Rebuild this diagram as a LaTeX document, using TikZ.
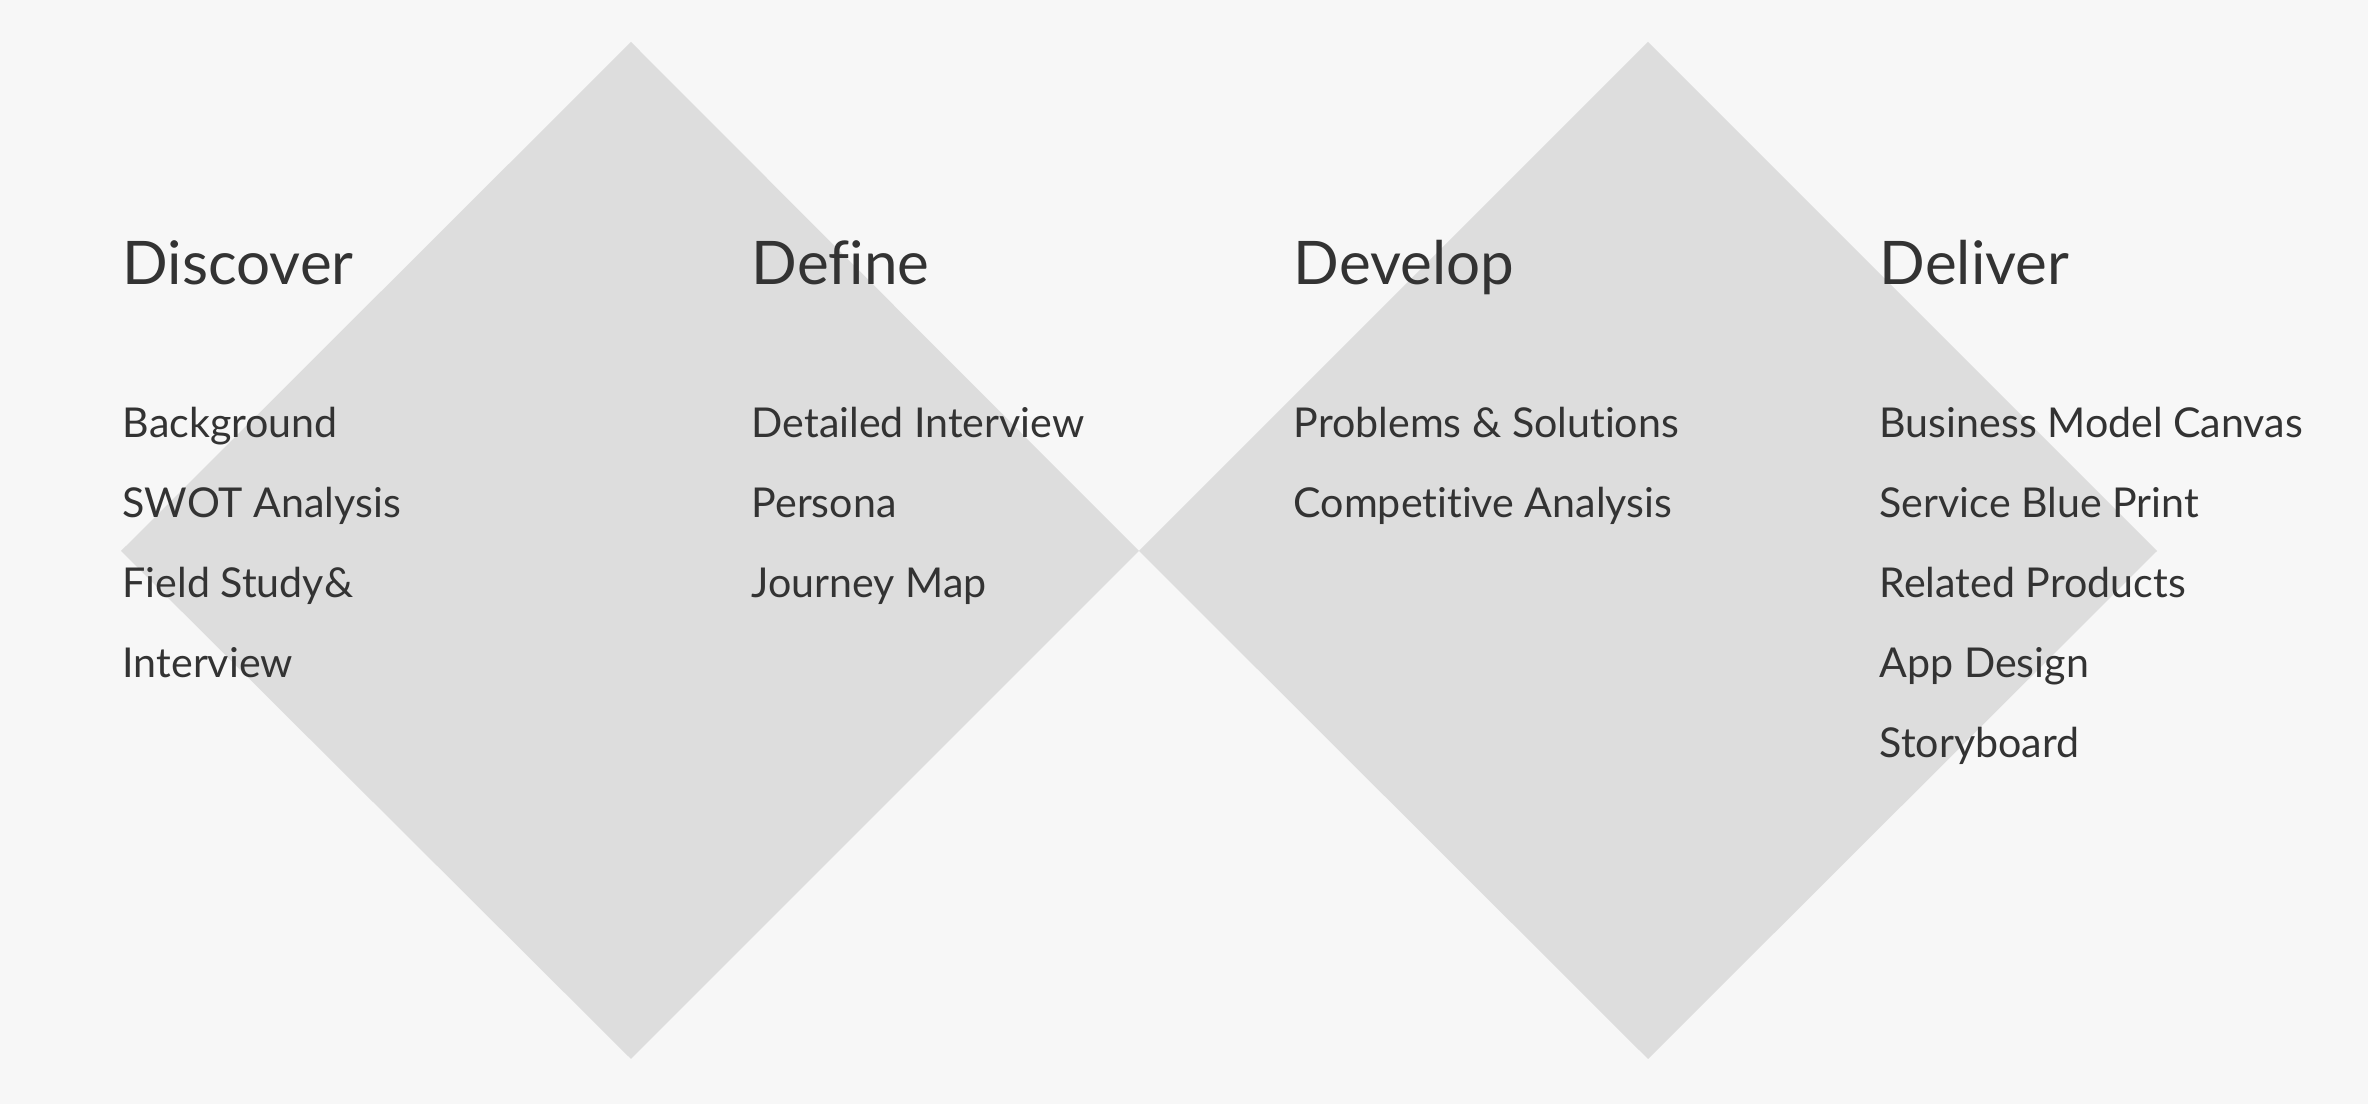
\documentclass[tikz,border=0pt]{standalone}
\usepackage{fontspec}
\setmainfont{Lato}[Ligatures=NoCommon]
\definecolor{bgcol}{HTML}{F7F7F7}
\definecolor{diacol}{HTML}{DDDDDD}
\definecolor{txtcol}{HTML}{333333}
\begin{document}
\begin{tikzpicture}[x=0.01cm,y=-0.01cm,line join=round]
			\tikzset{title/.style={anchor=base west,inner sep=0,text=txtcol,font=\fontsize{17.1}{20}\selectfont},
				item/.style={anchor=base west,inner sep=0,text=txtcol,font=\fontsize{11.7}{14}\selectfont}}
			\fill[bgcol] (0,0) rectangle (2368,1104);
			\fill[diacol] (121,551)--(631,42)--(1139,551)--(631,1059)--cycle;
			\fill[diacol] (1139,551)--(1648,42)--(2157,551)--(1648,1059)--cycle;
			% Discover
			\node[title] (discover) at (122,285) {Discover};
			\node[item] (background) at (122,438) {Background};
			\node[item] (swot) at (122,518) {SWOT Analysis};
			\node[item] (field) at (122,598) {Field Study\&};
			\node[item] (interview) at (122,678) {Interview};
			% Define
			\node[title] (define) at (751,285) {Define};
			\node[item] (detailed) at (751,438) {Detailed Interview};
			\node[item] (persona) at (751,518) {Persona};
			\node[item] (journey) at (751,598) {Journey Map};
			% Develop
			\node[title] (develop) at (1293,285) {Develop};
			\node[item] (problems) at (1293,438) {Problems \& Solutions};
			\node[item] (competitive) at (1293,518) {Competitive Analysis};
			% Deliver
			\node[title] (deliver) at (1879,285) {Deliver};
			\node[item] (canvas) at (1879,438) {Business Model Canvas};
			\node[item] (blueprint) at (1879,518) {Service Blue Print};
			\node[item] (related) at (1879,598) {Related Products};
			\node[item] (app) at (1879,678) {App Design};
			\node[item] (storyboard) at (1879,758) {Storyboard};
		\end{tikzpicture}
\end{document}
